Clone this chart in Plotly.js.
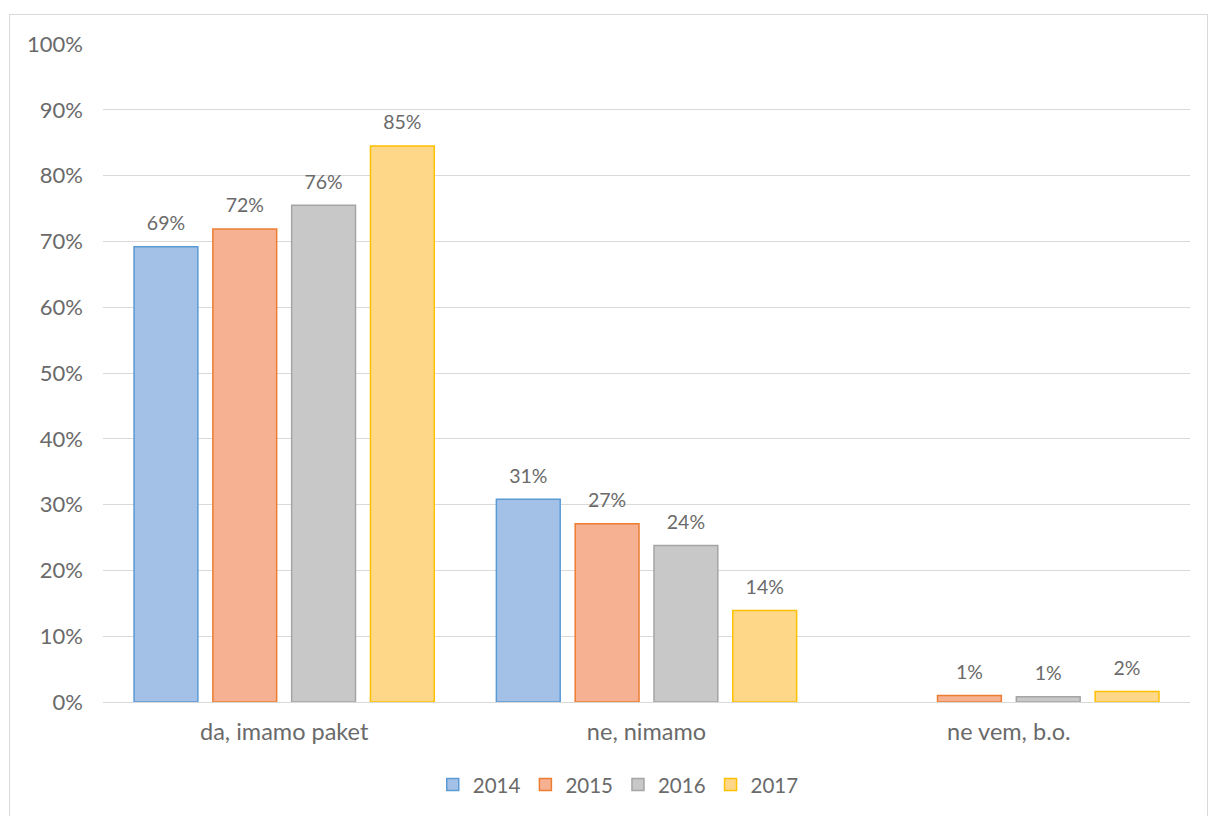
<!DOCTYPE html>
<html><head><meta charset="utf-8">
<script src="https://cdn.plot.ly/plotly-3.0.1.min.js"></script>
<style>
body{margin:0;padding:0;background:#fff;}
#wrap{position:relative;width:1209px;height:816px;}
#chart{width:1209px;height:816px;}
#frame{position:absolute;left:9px;top:14px;width:1197px;height:801px;border:1px solid #d9d9d9;border-bottom:none;pointer-events:none;}
</style>
</head><body>
<div id="wrap"><div id="chart"></div><div id="frame"></div></div>
<script>
const categories = ["da, imamo paket", "ne, nimamo", "ne vem, b.o."];
const years = ["2014", "2015", "2016", "2017"];
const v2014 = [69.2, 30.8, null];
const v2015 = [71.9, 27.1, 1.0];
const v2016 = [75.5, 23.8, 0.8];
const v2017 = [84.5, 13.9, 1.6];
const labels2014 = ["69%", "31%", ""];
const labels2015 = ["72%", "27%", "1%"];
const labels2016 = ["76%", "24%", "1%"];
const labels2017 = ["85%", "14%", "2%"];
const tickVals = [0,10,20,30,40,50,60,70,80,90,100];
const tickText = ["0%","10%","20%","30%","40%","50%","60%","70%","80%","90%","100%"];

const series = [v2014, v2015, v2016, v2017];
const labels = [labels2014, labels2015, labels2016, labels2017];
const fills = ["#a3c1e6", "#f6b092", "#c8c8c8", "#fed888"];
const lines = ["#5b9bd5", "#ed7d31", "#a5a5a5", "#ffc000"];
const font = "Lato, 'Open Sans', sans-serif";
const txtColor = "#6a6a6a";

const traces = [];
series.forEach((vals, i) => {
  traces.push({
    type: "bar", name: years[i], x: categories, y: vals,
    offsetgroup: years[i], alignmentgroup: "a",
    marker: {color: fills[i], line: {color: lines[i], width: 1.5}},
    hoverinfo: "skip"
  });
});
series.forEach((vals, i) => {
  traces.push({
    type: "scatter", mode: "markers+text", x: categories, y: vals,
    offsetgroup: years[i], alignmentgroup: "a",
    text: labels[i], textposition: "top center",
    textfont: {family: font, size: 19.5, color: txtColor},
    marker: {size: 17, color: "rgba(0,0,0,0)"},
    showlegend: false, hoverinfo: "skip", cliponaxis: false
  });
});

const layout = {
  width: 1209, height: 816,
  margin: {l: 103, r: 19, t: 44, b: 113},
  paper_bgcolor: "#fff", plot_bgcolor: "#fff",
  barmode: "group", bargap: 0.13, bargroupgap: 0.19,
  scattermode: "group", scattergap: 0.13,
  font: {family: font, size: 20, color: txtColor},
  xaxis: {
    showgrid: false, zeroline: false, showline: true, linecolor: "#d9d9d9", linewidth: 1,
    ticks: "", ticklabelstandoff: 9,
    tickfont: {family: font, size: 23.5, color: txtColor}
  },
  yaxis: {
    range: [0, 100], tickvals: tickVals, ticktext: tickText,
    showgrid: true, gridcolor: "#d9d9d9", gridwidth: 1,
    zeroline: false, showline: false, ticks: "", ticklabelstandoff: 19,
    tickfont: {family: font, size: 22, color: txtColor}
  },
  showlegend: true,
  legend: {
    orientation: "h", x: 0.474, xanchor: "center", y: -0.124, yanchor: "middle",
    font: {family: font, size: 20.5, color: txtColor}, itemwidth: 30,
    traceorder: "normal"
  }
};

Plotly.newPlot("chart", traces, layout, {displayModeBar: false, staticPlot: true});
</script>
</body></html>
